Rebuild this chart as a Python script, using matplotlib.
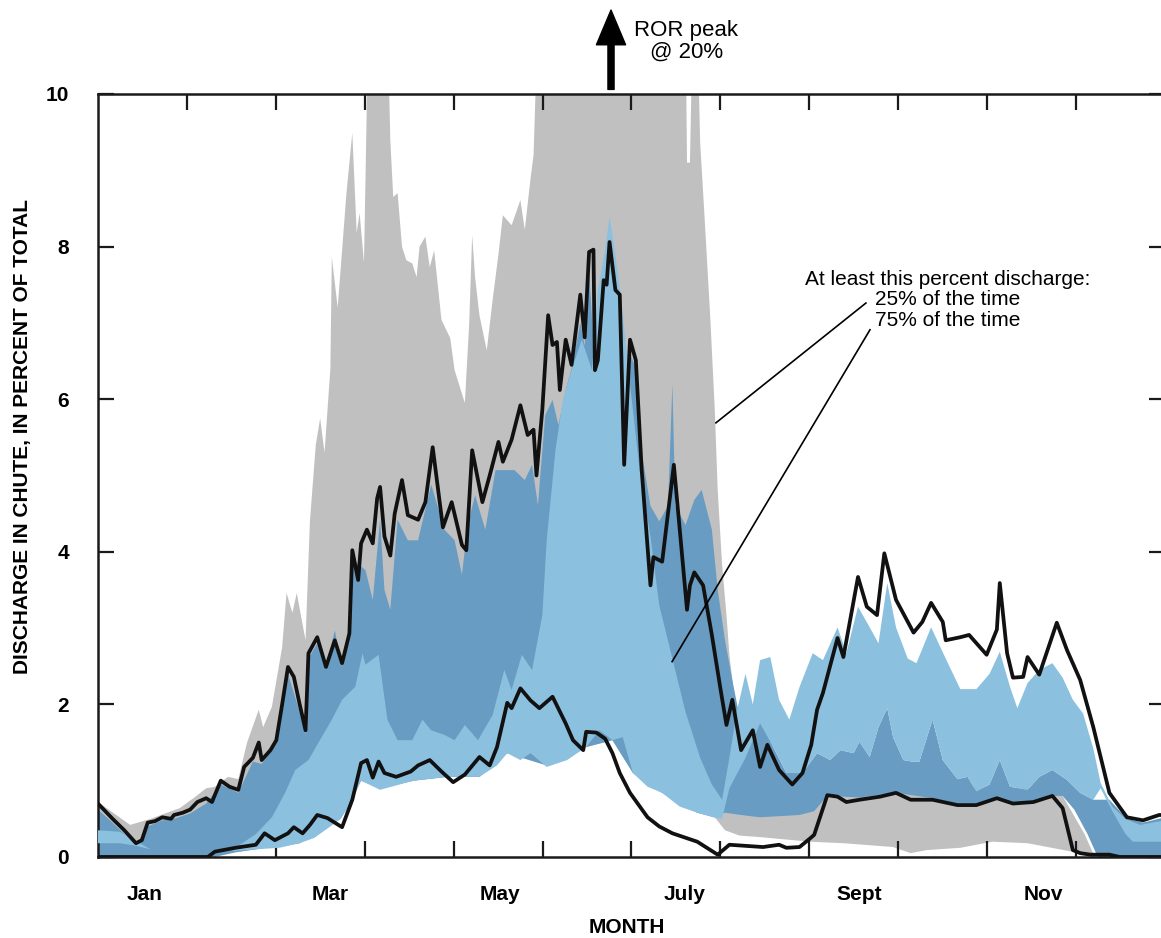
import numpy as np
import matplotlib.pyplot as plt

plt.rcParams['font.family'] = ['Liberation Sans', 'DejaVu Sans']

# ---- data (day of year, percent of total) ----
month_labels = ['Jan', 'Mar', 'May', 'July', 'Sept', 'Nov']
month_label_days = [16, 79.5, 137.5, 200.5, 260.5, 323.5]

# run-of-river band (gray), 25% and 75% exceedance
ror_hi_day = [0, 11, 18, 28, 33, 37, 40, 44.5, 48, 51, 55, 56.5, 59.5, 63, 64.5, 66.5, 68, 71, 72.5,
              74.5, 76, 77.5, 79.5, 80, 82, 85, 87, 88.5, 89.5, 91, 92.5, 99, 100, 101, 102.5, 104,
              105.5, 107.5, 109, 110, 112, 113.5, 115, 117.5, 120.5, 122, 125.5, 127, 128, 129, 130.5,
              133, 135, 137, 138.5, 141.5, 144.5, 146, 148, 149, 150.5, 160, 175.5, 190, 201, 201.5,
              202.5, 203.5, 205, 206, 207.5, 209.5, 211, 212, 213.5, 215, 216, 218, 220, 224, 328.5,
              333, 337.5, 341, 365]
ror_hi = [0.72, 0.42, 0.5, 0.64, 0.78, 0.9, 0.92, 1.05, 1.02, 1.5, 1.93, 1.7, 1.97, 2.75, 3.46, 3.2, 3.46,
          2.84, 4.4, 5.4, 5.75, 5.3, 6.4, 7.86, 7.2, 8.7, 9.49, 8.18, 8.44, 7.79, 11, 11, 9.4, 8.65, 8.7,
          8.0, 7.82, 7.78, 7.6, 8.0, 8.13, 7.73, 7.95, 7.04, 6.8, 6.38, 5.95, 7.0, 8.15, 7.6, 7.1, 6.64,
          7.3, 7.9, 8.41, 8.28, 8.61, 8.22, 8.9, 9.2, 11, 13, 20, 14, 11, 9.1, 9.1, 11, 11, 9.36, 8.39,
          7.04, 5.86, 4.81, 3.83, 3.17, 2.65, 2.0, 1.4, 0.95, 0.9, 0.6, 0.3, 0.0, 0.0]
ror_lo_day = [0, 35, 69, 83, 90, 96.5, 108, 119.5, 130.5, 140, 153.5, 167, 176, 183, 193, 205, 211,
              214.5, 219.5, 226.5, 243.5, 255, 272, 278, 283.5, 295, 306, 318, 329, 336, 341, 365]
ror_lo = [0, 0, 0.18, 0.5, 1.0, 0.9, 1.0, 1.05, 1.05, 1.36, 1.2, 1.44, 1.53, 1.1, 0.84, 0.58, 0.52,
          0.35, 0.28, 0.26, 0.2, 0.18, 0.13, 0.05, 0.09, 0.12, 0.2, 0.18, 0.1, 0.05, 0, 0]

# first blue band (darker)
dark_hi_day = [0, 5, 9, 13, 17, 22, 26, 31.5, 37, 42, 48, 53, 56, 61, 65, 69, 71, 72, 75, 78, 81, 83.5,
               86, 87, 91.5, 94, 96.5, 98, 100, 102.5, 106, 109.5, 114, 118.5, 122, 124.5, 126.5, 129,
               132.5, 136, 139, 142.5, 146, 148.5, 150.5, 153, 155.5, 157.5, 160, 162, 165, 166.5, 168,
               170, 173, 175, 177, 178.5, 180, 182, 184, 186, 189, 192, 195, 196.5, 197.5, 201, 204,
               206.5, 210, 212, 214.5, 217, 219, 221.5, 226.5, 231, 235.5, 241, 246, 250.5, 254, 258.5,
               260.5, 264, 267, 270, 272, 275.5, 278.5, 281, 285.5, 289, 294, 297.5, 300.5, 305, 308.5,
               312, 318, 322, 326.5, 331.5, 336, 340.5, 346, 352, 357.5, 365]
dark_hi = [0.62, 0.45, 0.3, 0.14, 0.4, 0.48, 0.5, 0.57, 0.7, 0.95, 0.84, 1.25, 1.22, 1.48, 2.4, 1.9, 1.6,
           2.6, 2.8, 2.45, 2.97, 2.5, 2.9, 3.9, 3.76, 3.37, 4.42, 3.5, 3.24, 4.42, 4.15, 4.15, 4.88, 4.29,
           4.15, 3.7, 4.35, 4.74, 4.29, 5.07, 5.07, 5.07, 4.94, 5.14, 4.61, 5.79, 5.99, 5.66, 6.12, 6.4,
           7.0, 6.7, 7.7, 6.4, 7.4, 8.0, 7.4, 7.3, 5.3, 6.6, 6.4, 5.3, 4.6, 4.4, 4.6, 6.2, 4.6, 4.35, 4.68,
           4.81, 4.29, 3.5, 2.84, 2.32, 1.93, 1.6, 1.83, 1.44, 1.1, 1.1, 1.36, 1.27, 1.4, 1.36, 1.51, 1.31,
           1.7, 1.95, 1.57, 1.27, 1.25, 1.25, 1.8, 1.27, 1.02, 1.05, 0.86, 0.95, 1.27, 0.92, 0.88, 1.05,
           1.14, 1.01, 0.84, 0.75, 0.75, 0.5, 0.45, 0.52]
dark_lo_day = [0, 40, 47, 54, 69, 83, 90, 96.5, 108, 119.5, 130.5, 140, 153.5, 167, 176, 183, 193, 205,
               211, 214.5, 220, 226.5, 240, 245, 249.5, 260.5, 273, 285.5, 294, 300.5, 307.5, 313, 320,
               326.5, 330, 334, 338.5, 342, 365]
dark_lo = [0, 0, 0.06, 0.1, 0.18, 0.5, 1.0, 0.9, 1.0, 1.05, 1.05, 1.36, 1.2, 1.44, 1.53, 1.1, 0.84, 0.58,
           0.52, 0.58, 0.55, 0.52, 0.55, 0.6, 0.8, 0.78, 0.84, 0.77, 0.7, 0.7, 0.78, 0.72, 0.74, 0.8, 0.8,
           0.62, 0.3, 0, 0]

# second blue band (lighter)
light_hi_day = [0, 7.5, 12.5, 18, 42, 47, 54, 59.5, 64, 67.5, 72, 76.5, 80, 83.5, 88, 90.5, 91.5, 96, 99,
                102.5, 107.5, 111, 114, 118.5, 122, 125.5, 130, 135, 139, 141.5, 145, 148.5, 152, 153.5,
                156.5, 159, 162, 165.5, 169, 171, 173.5, 175, 177, 179, 182, 185.5, 189, 192, 196.5, 201,
                206, 210, 213.5, 216, 218.5, 221.5, 224, 226.5, 230, 233, 236.5, 240, 244.5, 248, 253,
                256, 260, 264, 267, 270, 273, 277, 280, 285, 290, 295, 300.5, 305, 308.5, 312, 314.5,
                318, 322, 326.5, 330, 333.5, 337, 340.5, 343, 347, 351.5, 356.5, 365]
light_hi = [0.35, 0.33, 0.22, 0.1, 0.1, 0.12, 0.3, 0.52, 0.84, 1.14, 1.27, 1.57, 1.8, 2.06, 2.23, 2.67,
            2.52, 2.65, 1.8, 1.53, 1.53, 1.8, 1.66, 1.6, 1.53, 1.73, 1.53, 1.86, 2.45, 2.19, 2.65, 2.45,
            3.17, 4.15, 5.33, 5.99, 6.38, 6.78, 6.38, 7.43, 7.96, 8.39, 7.89, 7.3, 6.2, 5.0, 4.2, 3.3, 2.6,
            1.9, 1.3, 0.95, 0.75, 1.3, 1.9, 2.4, 2.0, 2.58, 2.62, 2.06, 1.8, 2.23, 2.67, 2.58, 3.01, 2.67,
            3.28, 3.01, 2.8, 3.59, 3.01, 2.6, 2.54, 3.01, 2.6, 2.2, 2.2, 2.4, 2.69, 2.23, 1.95, 2.28, 2.45,
            2.54, 2.35, 2.06, 1.88, 1.42, 0.97, 0.66, 0.5, 0.42, 0.48]
light_lo_day = [0, 7.5, 12.5, 18, 42, 47, 54, 62, 69, 74, 79.5, 83, 86.5, 90, 96.5, 108, 119.5, 130.5,
                136.5, 140, 144.5, 148, 153.5, 160.5, 167, 171.5, 176, 179.5, 183, 188, 193, 199, 205,
                210.5, 213.5, 216, 221.5, 226.5, 231, 235.5, 241, 246, 250.5, 254, 258.5, 260.5, 264, 267,
                270, 272, 275.5, 278.5, 281, 285.5, 289, 294, 297.5, 300.5, 305, 308.5, 312, 318, 322,
                326.5, 331.5, 336, 340.5, 343, 347, 351.5, 354, 365]
light_lo = [0.18, 0.18, 0.15, 0.1, 0.1, 0.08, 0.1, 0.12, 0.18, 0.25, 0.4, 0.5, 0.7, 1.0, 0.88, 1.0, 1.05,
            1.05, 1.2, 1.36, 1.27, 1.36, 1.18, 1.27, 1.44, 1.66, 1.53, 1.57, 1.1, 0.92, 0.84, 0.66, 0.58,
            0.52, 0.5, 0.9, 1.3, 1.75, 1.44, 1.1, 1.1, 1.36, 1.27, 1.4, 1.36, 1.51, 1.31, 1.7, 1.95, 1.57,
            1.27, 1.25, 1.25, 1.8, 1.27, 1.02, 1.05, 0.86, 0.95, 1.27, 0.92, 0.88, 1.05, 1.14, 1.01, 0.84,
            0.75, 0.9, 0.6, 0.3, 0.2, 0.2]

# chute discharge exceeded 25% and 75% of the time (black lines)
q25_day = [0, 1, 5, 9, 13, 15, 17, 19.5, 22, 25, 26, 29, 31.5, 34, 37, 39, 42, 45, 48, 50, 53, 55, 56, 59,
           61, 63, 65, 67, 69, 71, 72, 75, 78, 81, 83.5, 86, 87, 89, 90, 92, 94, 95.5, 96.5, 98, 100,
           101.5, 104, 106, 109.5, 112, 114.5, 118, 121, 124.5, 126, 128, 131.5, 134, 137, 138.5, 141.5,
           144.5, 147, 149, 150, 152, 154, 155.5, 157, 158, 160, 162, 165, 166.5, 168, 169.5, 170, 171,
           173, 174, 175, 177, 178.5, 180, 182, 184, 186, 189, 190, 193, 197, 199, 201.5, 202.5, 204,
           207, 210, 213, 215, 217, 220, 224, 226.5, 229, 233, 237.5, 241, 244, 246, 248, 253, 255, 260,
           263, 266.5, 269, 273, 279, 282, 285, 289, 290, 295, 298, 304, 307.5, 308.5, 311, 313, 316.5,
           318, 322, 328, 331.5, 336, 340.5, 346, 352, 357.5, 363, 365]
q25 = [0.7, 0.66, 0.5, 0.35, 0.18, 0.22, 0.45, 0.47, 0.52, 0.5, 0.55, 0.58, 0.62, 0.72, 0.77, 0.72, 1.0,
       0.92, 0.88, 1.18, 1.3, 1.5, 1.27, 1.4, 1.53, 2.0, 2.49, 2.36, 2.0, 1.66, 2.67, 2.88, 2.49, 2.84,
       2.54, 2.93, 4.02, 3.63, 4.11, 4.29, 4.11, 4.7, 4.85, 4.2, 3.95, 4.5, 4.94, 4.48, 4.42, 4.65, 5.37,
       4.32, 4.65, 4.09, 4.02, 5.33, 4.65, 5.0, 5.44, 5.18, 5.47, 5.92, 5.53, 5.6, 5.0, 5.86, 7.1, 6.71,
       6.75, 6.12, 6.78, 6.45, 7.37, 6.81, 7.93, 7.96, 6.38, 6.51, 7.56, 7.5, 8.06, 7.43, 7.37, 5.14, 6.78,
       6.51, 5.07, 3.56, 3.93, 3.87, 5.14, 4.29, 3.24, 3.56, 3.73, 3.56, 2.91, 2.19, 1.73, 2.06, 1.4, 1.66,
       1.18, 1.47, 1.14, 0.95, 1.1, 1.47, 1.93, 2.15, 2.87, 2.62, 3.67, 3.28, 3.17, 3.98, 3.37, 2.94,
       3.08, 3.33, 3.08, 2.84, 2.88, 2.91, 2.65, 2.98, 3.59, 2.67, 2.35, 2.36, 2.62, 2.39, 3.07, 2.71,
       2.32, 1.7, 0.84, 0.52, 0.48, 0.55, 0.55]
q75_day = [0, 37.6, 40, 47, 54, 57, 60.5, 65, 67, 70, 72.5, 75, 78.5, 83.5, 87, 90, 92, 94, 96, 98, 102,
           107, 109.5, 113.5, 117.5, 121.5, 125.5, 130.5, 134, 136.5, 140, 141.5, 144.5, 148, 151, 155.5,
           160, 162.5, 166, 167, 170.5, 173.5, 176, 178.5, 182, 188, 192, 196.5, 205, 212, 216, 227.5,
           233, 235.5, 240, 243.5, 245, 249.5, 253, 256, 260.5, 267.5, 273, 278, 285.5, 294, 300.5,
           307.5, 313, 320, 326.5, 330, 333.5, 336, 339.5, 346, 349.5, 365]
q75 = [0, 0, 0.07, 0.12, 0.16, 0.31, 0.22, 0.31, 0.39, 0.31, 0.42, 0.55, 0.51, 0.39, 0.75, 1.23, 1.27,
       1.04, 1.25, 1.1, 1.05, 1.12, 1.2, 1.27, 1.12, 0.98, 1.08, 1.31, 1.2, 1.44, 2.02, 1.95, 2.21, 2.05,
       1.95, 2.1, 1.75, 1.53, 1.4, 1.64, 1.63, 1.55, 1.36, 1.1, 0.84, 0.52, 0.4, 0.31, 0.2, 0.03, 0.16,
       0.13, 0.16, 0.12, 0.13, 0.24, 0.29, 0.81, 0.79, 0.72, 0.75, 0.79, 0.84, 0.75, 0.75, 0.68, 0.68,
       0.77, 0.7, 0.72, 0.8, 0.64, 0.09, 0.05, 0.03, 0.03, 0, 0]

GRAY = '#c0c0c0'
DARK = '#689cc2'
LIGHT = '#8cc0df'


def band(ax, xh, yh, xl, yl, color, z):
    xs = np.r_[np.asarray(xh, float), np.asarray(xl, float)[::-1]]
    ys = np.r_[np.asarray(yh, float), np.asarray(yl, float)[::-1]]
    ax.fill(xs, ys, color=color, lw=0, zorder=z)


fig = plt.figure(figsize=(11.61, 9.38), dpi=100)
ax = fig.add_axes([0.0844, 0.0864, 0.919, 0.8134])

band(ax, ror_hi_day, ror_hi, ror_lo_day, ror_lo, GRAY, 1)
band(ax, dark_hi_day, dark_hi, dark_lo_day, dark_lo, DARK, 2)
band(ax, light_hi_day, light_hi, light_lo_day, light_lo, LIGHT, 3)
ax.plot(q25_day, q25, color='#111111', lw=2.7, zorder=4)
ax.plot(q75_day, q75, color='#111111', lw=2.7, zorder=4)

ax.set_xlim(0, 365)
ax.set_ylim(0, 10)

for s in ax.spines.values():
    s.set_linewidth(1.8)
    s.set_color('#1a1a1a')

ax.set_yticks(np.arange(0, 11, 2))
ax.set_yticklabels([str(v) for v in range(0, 11, 2)], fontsize=15, fontweight='bold')
ax.set_xticks(np.arange(1, 12) * 365 / 12)
ax.set_xticklabels([])
ax.set_xticks(month_label_days, minor=True)
ax.set_xticklabels(month_labels, minor=True, fontsize=15, fontweight='bold')
ax.tick_params(which='major', direction='in', length=11.5, width=1.6, color='#1a1a1a',
               top=True, right=True)
ax.tick_params(axis='y', pad=21)
ax.tick_params(axis='x', which='minor', length=0, pad=20)

fig.text(0.019, 0.535, 'DISCHARGE IN CHUTE, IN PERCENT OF TOTAL', rotation=90,
         ha='center', va='center', fontsize=15, fontweight='bold')
fig.text(0.540, 0.0117, 'MONTH', ha='center', va='center', fontsize=15, fontweight='bold')

# peak of the run-of-river band is off scale
ax.annotate('', xy=(175.5, 1.110), xytext=(175.5, 1.006),
            xycoords=('data', 'axes fraction'), textcoords=('data', 'axes fraction'),
            arrowprops=dict(arrowstyle='simple,head_length=1.25,head_width=1.05,tail_width=0.22',
                            mutation_scale=20, color='black', shrinkA=0, shrinkB=0),
            annotation_clip=False)
ax.text(201.2, 1.069, 'ROR peak\n@ 20%', transform=ax.get_xaxis_transform(),
        ha='center', va='center', fontsize=16, linespacing=1.1, clip_on=False)

ax.text(290.8, 7.30, 'At least this percent discharge:\n25% of the time\n75% of the time',
        ha='center', va='center', fontsize=15, linespacing=1.13, multialignment='center', zorder=6)
ax.plot([211.4, 262.7], [5.69, 7.26], color='black', lw=1.2, zorder=6)
ax.plot([196.4, 264.1], [2.56, 6.91], color='black', lw=1.2, zorder=6)

fig.savefig('out.png', dpi=100)
